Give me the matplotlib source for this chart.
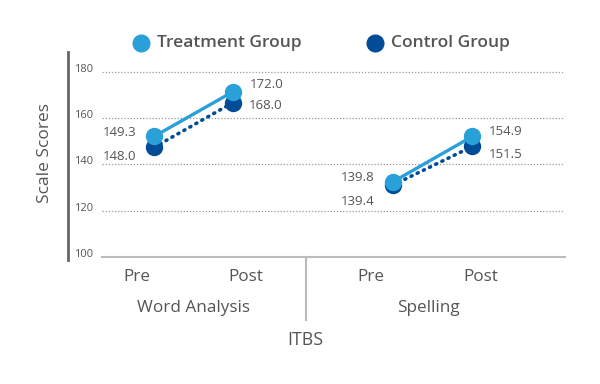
import matplotlib.pyplot as plt
from matplotlib.lines import Line2D
from matplotlib.transforms import blended_transform_factory

# data
phases = ["Pre", "Post", "Pre", "Post"]
subtests = ["Word Analysis", "Spelling"]
treatment_wa = [152.1, 171.4]
control_wa = [147.4, 166.7]
treatment_sp = [132.4, 152.1]
control_sp = [131.0, 147.8]
treatment_labels = ["149.3", "172.0", "139.8", "154.9"]
control_labels = ["148.0", "168.0", "139.4", "151.5"]
y_ticks = [100, 120, 140, 160, 180]

TREAT = "#2aa0d8"
CTRL = "#004c97"
TXT = "#555555"

plt.rcParams["font.family"] = ["Open Sans", "DejaVu Sans"]

fig = plt.figure(figsize=(6, 3.84), dpi=100)
W, H = 600, 384
ax = fig.add_axes([102 / W, 1 - 257 / H, 463 / W, 205 / H])
ax.set_xlim(0, 4)
ax.set_ylim(100, 188.6)

# marker positions inside each block
x_wa = [0.45, 1.13]
x_sp = [2.51, 3.20]

dots = dict(color=CTRL, lw=2.6, ls=(0, (0.3, 1.6)), dash_capstyle="round",
            marker="o", ms=11.5, zorder=3)
ax.plot(x_wa, control_wa, **dots)
ax.plot(x_sp, control_sp, **dots)
ax.plot(x_wa, treatment_wa, color=TREAT, lw=2.4, marker="o", ms=11.5, zorder=4)
ax.plot(x_sp, treatment_sp, color=TREAT, lw=2.4, marker="o", ms=11.5, zorder=4)

# value labels, offsets in pixels from each marker
xs = x_wa + x_sp
t_vals = treatment_wa + treatment_sp
c_vals = control_wa + control_sp
t_off = [(-18, 4), (17, 7), (-18, 5), (16, 5)]
c_off = [(-18, -9), (16, -3), (-18, -16), (16, -8)]
for i in range(4):
    ha = "right" if i % 2 == 0 else "left"
    ax.annotate(treatment_labels[i], (xs[i], t_vals[i]),
                xytext=(t_off[i][0] * 0.72, t_off[i][1] * 0.72),
                textcoords="offset points", ha=ha, va="center",
                fontsize=9.5, color=TXT)
    ax.annotate(control_labels[i], (xs[i], c_vals[i]),
                xytext=(c_off[i][0] * 0.72, c_off[i][1] * 0.72),
                textcoords="offset points", ha=ha, va="center",
                fontsize=9.5, color=TXT)

# axes styling
for s in ["left", "right", "top"]:
    ax.spines[s].set_visible(False)
ax.spines["bottom"].set_color("#bbbbbb")
ax.spines["bottom"].set_linewidth(1.5)
ax.set_xticks([])
ax.set_yticks(y_ticks)
ax.set_yticklabels([str(t) for t in y_ticks], fontsize=8, color=TXT)
ax.tick_params(axis="y", length=0, pad=6.5)
for lab in ax.get_yticklabels():
    lab.set_va("baseline")
ax.grid(axis="y", color="#999999", ls=(0, (1, 1.5)), lw=0.9)
ax.set_axisbelow(True)

# category labels beneath the axis
trans = blended_transform_factory(ax.transData, ax.transAxes)
cat_x = [0.30, 1.24, 2.32, 3.27]
for x, p in zip(cat_x, phases):
    ax.text(x, -0.098, p, transform=trans, ha="center", va="center",
            fontsize=12.3, color=TXT)
for x, s in zip([0.79, 2.82], subtests):
    ax.text(x, -0.249, s, transform=trans, ha="center", va="center",
            fontsize=12.3, color=TXT)
ax.add_line(Line2D([1.76, 1.76], [0, -0.307], transform=trans,
                   color="#bbbbbb", lw=1.5, clip_on=False))
fig.text(305 / W, 1 - 340 / H, "ITBS", ha="center", va="center",
         fontsize=12.8, color=TXT)

# left axis bar and title
fig.add_artist(Line2D([68 / W, 68 / W], [1 - 52 / H, 1 - 260 / H],
                      transform=fig.transFigure, color="#666666", lw=2))
fig.text(45 / W, 1 - 153 / H, "Scale Scores", rotation=90, ha="center",
         va="center", fontsize=12.5, color=TXT)

# legend
fig.add_artist(Line2D([141 / W], [1 - 43 / H], transform=fig.transFigure,
                      marker="o", ms=12, color=TREAT, lw=0))
fig.text(157 / W, 1 - 43 / H, "Treatment Group", ha="left", va="center",
         fontsize=12.5, fontweight="semibold", color=TXT)
fig.add_artist(Line2D([375 / W], [1 - 43 / H], transform=fig.transFigure,
                      marker="o", ms=12, color=CTRL, lw=0))
fig.text(391 / W, 1 - 43 / H, "Control Group", ha="left", va="center",
         fontsize=12.5, fontweight="semibold", color=TXT)

fig.savefig("out.png", dpi=100)
